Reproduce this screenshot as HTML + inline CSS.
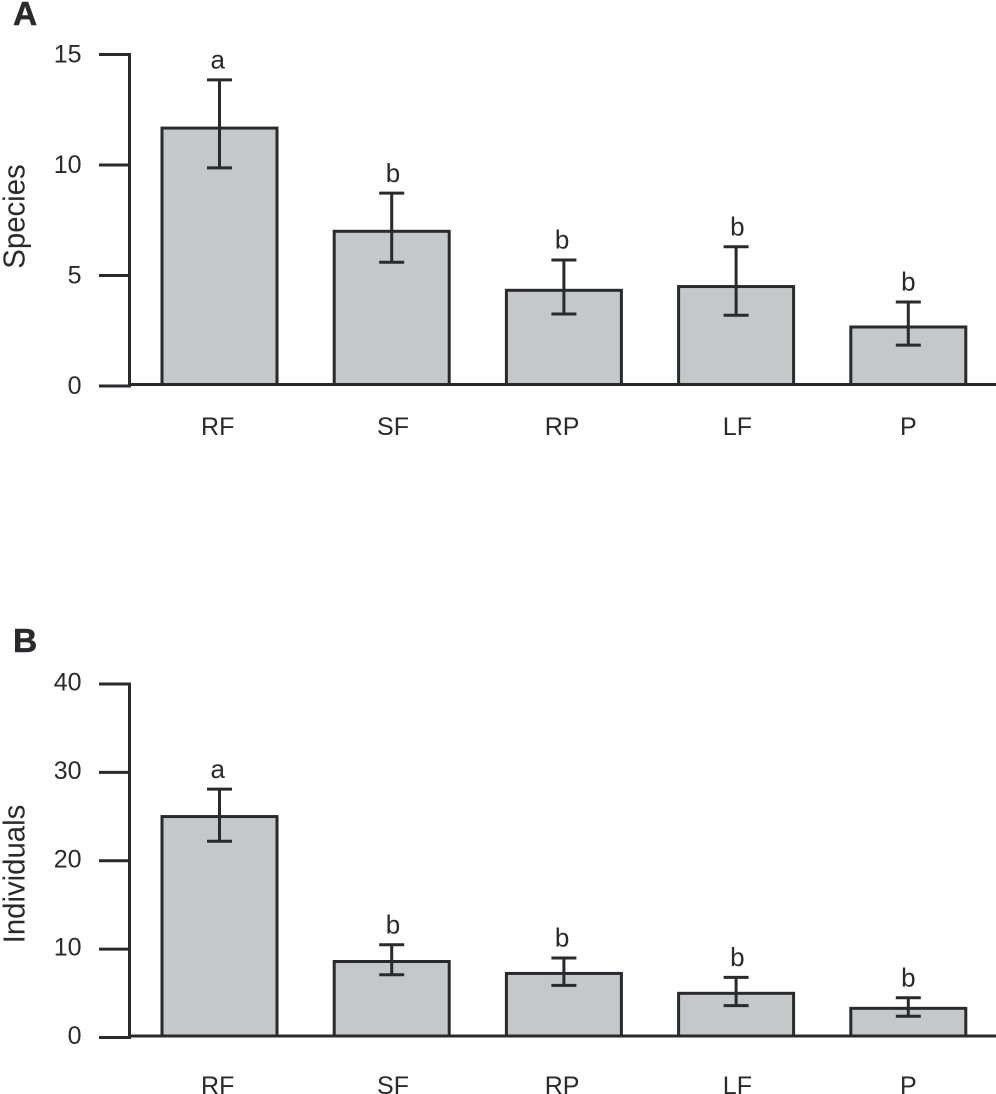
<!DOCTYPE html>
<html>
<head>
<meta charset="utf-8">
<title>Species and individuals by land use</title>
<style>
html,body{margin:0;padding:0;background:#fff;}
svg{display:block;}
text{font-family:"Liberation Sans",Arial,sans-serif;fill:#2a2a2c;}
</style>
</head>
<body>
<svg id="chart" xmlns="http://www.w3.org/2000/svg" width="996" height="1094" viewBox="0 0 996 1094"></svg>
<script>
const categories = ["RF", "SF", "RP", "LF", "P"];

const speciesValues = [11.67, 7.0, 4.33, 4.5, 2.67];
const speciesErrUpper = [13.85, 8.73, 5.7, 6.3, 3.8];
const speciesErrLower = [9.87, 5.6, 3.26, 3.2, 1.85];
const speciesLetters = ["a", "b", "b", "b", "b"];
const speciesTicks = [0, 5, 10, 15];

const individualsValues = [25.0, 8.6, 7.25, 5.0, 3.3];
const individualsErrUpper = [28.1, 10.5, 9.0, 6.8, 4.5];
const individualsErrLower = [22.2, 7.1, 5.9, 3.6, 2.4];
const individualsLetters = ["a", "b", "b", "b", "b"];
const individualsTicks = [0, 10, 20, 30, 40];

const svg = document.getElementById('chart');
const NS = 'http://www.w3.org/2000/svg';
const INK = '#2a2a2c';

function line(parent, x1, y1, x2, y2, w) {
  const l = document.createElementNS(NS, 'line');
  l.setAttribute('x1', x1);
  l.setAttribute('y1', y1);
  l.setAttribute('x2', x2);
  l.setAttribute('y2', y2);
  l.setAttribute('stroke', INK);
  l.setAttribute('stroke-width', w);
  parent.appendChild(l);
  return l;
}

function label(parent, x, y, str, size, anchor) {
  const t = document.createElementNS(NS, 'text');
  t.setAttribute('x', x);
  t.setAttribute('y', y);
  t.setAttribute('font-size', size);
  t.setAttribute('text-anchor', anchor);
  t.textContent = str;
  parent.appendChild(t);
  return t;
}

function xBand(i) {
  return 219.5 + i * 172.2;
}

// Labels sit slightly off the bar centres in the original typesetting.
function labelShift(i) {
  if (i === 4) return 0;
  return i % 2 ? 1.3 : -1.8;
}

function drawPanel(cfg) {
  const yScale = v => cfg.y0 - (v / cfg.yMax) * (cfg.y0 - cfg.yTop);
  const g = document.createElementNS(NS, 'g');
  
  
  svg.appendChild(g);

  const panelLetter = label(g, cfg.letterX, cfg.letterY, cfg.letter, 33.5, 'start');
  panelLetter.setAttribute('font-weight', 'bold');
  panelLetter.setAttribute('stroke', INK);
  panelLetter.setAttribute('stroke-width', '0.5');
  
  

  const title = label(g, 0, 0, cfg.title, 31, 'middle');
  title.setAttribute('transform', 'translate(24.5 ' + cfg.titleY + ') rotate(-90) scale(0.947 1)');
  
  

  categories.forEach((cat, i) => {
    const cx = xBand(i);
    const top = yScale(cfg.values[i]);
    const rect = document.createElementNS(NS, 'rect');
    rect.setAttribute('x', cx - 57.5);
    rect.setAttribute('y', top);
    rect.setAttribute('width', 115);
    rect.setAttribute('height', cfg.base - top);
    rect.setAttribute('fill', '#c6c7c9');
    rect.setAttribute('stroke', INK);
    rect.setAttribute('stroke-width', 3);
    
    
    g.appendChild(rect);

    const hi = yScale(cfg.upper[i]);
    const lo = yScale(cfg.lower[i]);
    const err = document.createElementNS(NS, 'g');
    
    
    g.appendChild(err);
    line(err, cx, hi, cx, lo, 3);
    line(err, cx - 12.5, hi, cx + 12.5, hi, 3);
    line(err, cx - 12.5, lo, cx + 12.5, lo, 3);

    const sig = label(g, cx + labelShift(i), hi - 11.3, cfg.letters[i], 26, 'middle');
    
    

    const xl = label(g, cx + labelShift(i), cfg.xLabelY, cat, 25, 'middle');
    
    
  });

  const baseline = line(g, 129.5, cfg.base, 996, cfg.base, 3);
  
  

  const axis = line(g, 129.5, cfg.yTop - 1.5, 129.5, cfg.y0 + 1.5, 3);
  
  

  cfg.ticks.forEach(v => {
    const y = yScale(v);
    const tick = line(g, 99, y, 129.5, y, 3);
    
    
    const tl = label(g, 81.5, y + cfg.tickLabelDrop, String(v), 25, 'end');
    
    
  });
}

drawPanel({
  name: 'panel-a-species',
  letter: 'A',
  letterX: 13,
  letterY: 25,
  title: 'Species',
  titleY: 216.5,
  values: speciesValues,
  upper: speciesErrUpper,
  lower: speciesErrLower,
  letters: speciesLetters,
  ticks: speciesTicks,
  yMax: 15,
  yTop: 54.5,
  y0: 386,
  base: 384.5,
  xLabelY: 435,
  tickLabelDrop: 7.8
});

drawPanel({
  name: 'panel-b-individuals',
  letter: 'B',
  letterX: 13,
  letterY: 652,
  title: 'Individuals',
  titleY: 874,
  values: individualsValues,
  upper: individualsErrUpper,
  lower: individualsErrLower,
  letters: individualsLetters,
  ticks: individualsTicks,
  yMax: 40,
  yTop: 684,
  y0: 1037.5,
  base: 1036,
  xLabelY: 1094,
  tickLabelDrop: 6.5
});
</script>
</body>
</html>
